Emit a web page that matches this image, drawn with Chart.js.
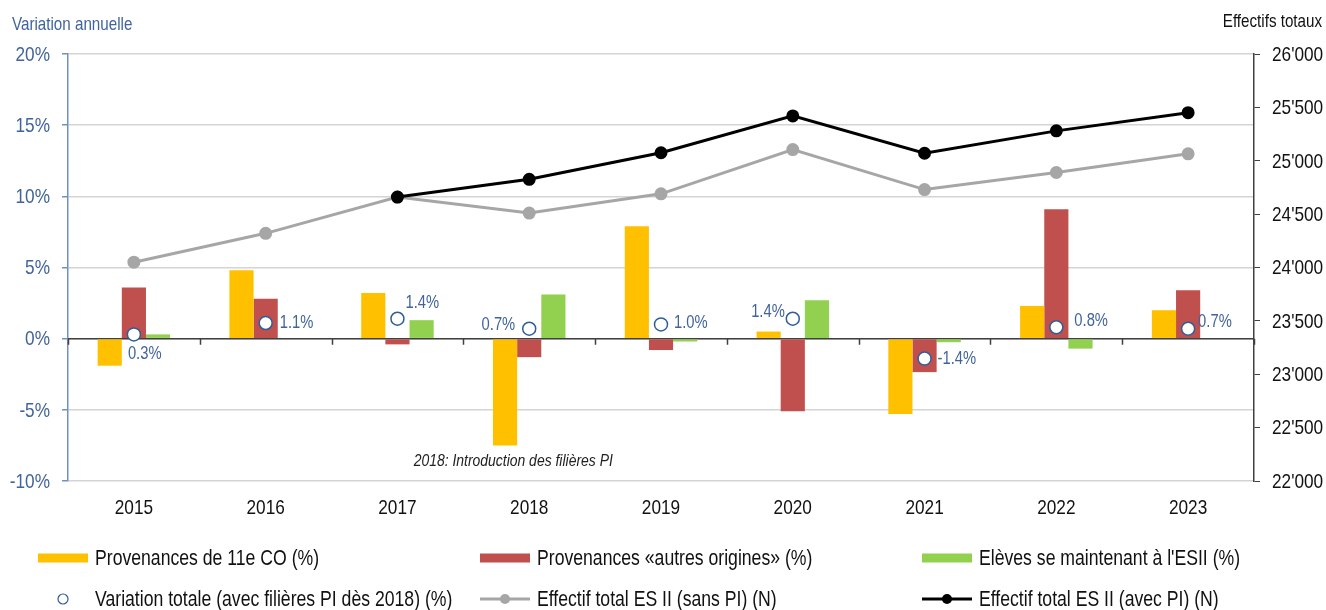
<!DOCTYPE html>
<html lang="fr">
<head>
<meta charset="utf-8">
<title>Variation annuelle des effectifs ES II</title>
<script src="https://cdn.jsdelivr.net/npm/chart.js@4/dist/chart.umd.min.js"></script>
<style>
  html, body { margin: 0; padding: 0; background: #fff; }
  #wrap { width: 1326px; height: 610px; position: relative; }
</style>
</head>
<body>
<div id="wrap"><canvas id="chart" width="1326" height="610"></canvas></div>
<script>
// --- Données ---
const years = ['2015', '2016', '2017', '2018', '2019', '2020', '2021', '2022', '2023'];
const provenances11eCO = [-1.9, 4.8, 3.2, -7.5, 7.9, 0.5, -5.3, 2.3, 2.0];
const provenancesAutres = [3.6, 2.8, -0.4, -1.3, -0.8, -5.1, -2.35, 9.1, 3.4];
const elevesMaintien = [0.3, 0.0, 1.3, 3.1, -0.2, 2.7, -0.25, -0.7, 0.0];
const variationTotale = [0.3, 1.1, 1.4, 0.7, 1.0, 1.4, -1.4, 0.8, 0.7];
const effectifSansPI = [24050, 24320, 24660, 24510, 24690, 25105, 24730, 24890, 25065];
const effectifAvecPI = [null, null, 24660, 24826, 25075, 25420, 25070, 25280, 25450];
const pctTicks = [-10, -5, 0, 5, 10, 15, 20];
const effTicks = [22000, 22500, 23000, 23500, 24000, 24500, 25000, 25500, 26000];

// --- Styles ---
const FONT = "'Liberation Sans', Arial, sans-serif";
const SX = 0.82; // texte étroit (condensé)
const BLUE_TXT = '#41649b';
const BLUE_AXIS = '#7090bf';
const GRID = '#d4d4d4';
const DARK = '#404040';
// placement des étiquettes de la variation totale: [dx, dy, align]
const labelPlacement = [
  [-6, 20, 'left'], [14, 0, 'left'], [8, -16, 'left'], [-14, -4, 'right'], [13, -1, 'left'],
  [-8, -7, 'right'], [13, 0, 'left'], [18, -6, 'left'], [10, -7, 'left']
];

const fmtEff = v => String(v).replace(/\B(?=(\d{3})+(?!\d))/g, "'");

const narrowText = (ctx, text, x, y, align) => {
  ctx.save();
  ctx.translate(x, y);
  ctx.scale(SX, 1);
  ctx.textAlign = align;
  ctx.fillText(text, 0, 0);
  ctx.restore();
};

// --- Plugin: axes texte, ligne zéro, étiquettes, note, légende ---
const decorPlugin = {
  id: 'decor',
  beforeDatasetsDraw(chart) {
    const { ctx, chartArea, scales } = chart;
    const y0 = scales.y.getPixelForValue(0);
    ctx.save();
    ctx.strokeStyle = DARK;
    ctx.lineWidth = 1.5;
    ctx.beginPath();
    ctx.moveTo(chartArea.left, y0);
    ctx.lineTo(chartArea.right, y0);
    const step = (chartArea.right - chartArea.left) / years.length;
    for (let k = 0; k <= years.length; k++) {
      const x = Math.round(chartArea.left + k * step) + 0.5;
      ctx.moveTo(x, y0);
      ctx.lineTo(x, y0 + 6);
    }
    ctx.stroke();
    ctx.restore();
  },
  afterDraw(chart) {
    const { ctx, scales, chartArea } = chart;
    ctx.save();

    // titres d'axes
    ctx.textBaseline = 'alphabetic';
    ctx.font = '18.5px ' + FONT;
    ctx.fillStyle = BLUE_TXT;
    narrowText(ctx, 'Variation annuelle', 12, 30, 'left');
    ctx.fillStyle = '#111';
    narrowText(ctx, 'Effectifs totaux', 1322, 27, 'right');

    // étiquettes des axes
    ctx.textBaseline = 'middle';
    ctx.font = '21px ' + FONT;
    ctx.fillStyle = BLUE_TXT;
    pctTicks.forEach(v => narrowText(ctx, v + '%', chartArea.left - 18, scales.y.getPixelForValue(v) + 1, 'right'));
    ctx.fillStyle = '#111';
    effTicks.forEach(v => narrowText(ctx, fmtEff(v), chartArea.right + 18, scales.y2.getPixelForValue(v) + 1, 'left'));
    years.forEach((yr, i) => narrowText(ctx, yr, scales.x.getPixelForValue(i), chartArea.bottom + 27, 'center'));

    // étiquettes variation totale
    const meta = chart.getDatasetMeta(3);
    ctx.font = '18px ' + FONT;
    ctx.fillStyle = BLUE_TXT;
    meta.data.forEach((pt, i) => {
      const [dx, dy, align] = labelPlacement[i];
      narrowText(ctx, variationTotale[i].toFixed(1) + '%', pt.x + dx, pt.y + dy, align);
    });

    // note
    ctx.font = 'italic 17px ' + FONT;
    ctx.fillStyle = '#222';
    narrowText(ctx, '2018: Introduction des filières PI', scales.x.getPixelForValue(3) - 16, scales.y.getPixelForValue(-8.6), 'center');

    // légende
    const cols = [38, 480, 922];
    const rows = [558, 599];
    ctx.font = '21.5px ' + FONT;
    [0, 1, 2, 3, 4, 5].forEach((di, n) => {
      const ds = chart.data.datasets[di];
      const x = cols[n % 3];
      const y = rows[Math.floor(n / 3)];
      if (ds.type === 'bar') {
        ctx.fillStyle = ds.backgroundColor;
        ctx.fillRect(x, y - 4.5, 50, 9);
      } else if (ds.showLine === false) {
        ctx.beginPath();
        ctx.arc(x + 25, y, 5, 0, Math.PI * 2);
        ctx.fillStyle = '#fff';
        ctx.fill();
        ctx.lineWidth = 1.2;
        ctx.strokeStyle = ds.pointBorderColor;
        ctx.stroke();
      } else {
        ctx.strokeStyle = ds.borderColor;
        ctx.lineWidth = ds.borderWidth;
        ctx.beginPath();
        ctx.moveTo(x, y);
        ctx.lineTo(x + 50, y);
        ctx.stroke();
        ctx.beginPath();
        ctx.arc(x + 25, y, 5, 0, Math.PI * 2);
        ctx.fillStyle = ds.pointBackgroundColor;
        ctx.fill();
      }
      ctx.fillStyle = '#111';
      narrowText(ctx, ds.label, x + 57, y + 1, 'left');
    });
    ctx.restore();
  }
};

// --- Chart ---
const initChart = () => {
  const ctx = document.getElementById('chart');
  new Chart(ctx, {
    data: {
      labels: years,
      datasets: [
        { type: 'bar', label: 'Provenances de 11e CO (%)', data: provenances11eCO, backgroundColor: '#ffc000', yAxisID: 'y', order: 3 },
        { type: 'bar', label: 'Provenances «autres origines» (%)', data: provenancesAutres, backgroundColor: '#c0504d', yAxisID: 'y', order: 3 },
        { type: 'bar', label: "Elèves se maintenant à l'ESII (%)", data: elevesMaintien, backgroundColor: '#92d050', yAxisID: 'y', order: 3 },
        {
          type: 'line', label: 'Variation totale (avec filières PI dès 2018) (%)', data: variationTotale, yAxisID: 'y',
          showLine: false, pointRadius: 6.5, pointBackgroundColor: '#fff', pointBorderColor: '#2f5d98', pointBorderWidth: 1.5, order: 0
        },
        {
          type: 'line', label: 'Effectif total ES II (sans PI) (N)', data: effectifSansPI, yAxisID: 'y2',
          borderColor: '#a6a6a6', borderWidth: 3, pointRadius: 5, pointBackgroundColor: '#a6a6a6', pointBorderColor: '#a6a6a6', tension: 0, order: 2
        },
        {
          type: 'line', label: 'Effectif total ES II (avec PI) (N)', data: effectifAvecPI, yAxisID: 'y2',
          borderColor: '#000', borderWidth: 3, pointRadius: 5, pointBackgroundColor: '#000', pointBorderColor: '#000', tension: 0, spanGaps: false, order: 1
        }
      ]
    },
    options: {
      responsive: false,
      animation: false,
      layout: { padding: { top: 54, left: 0, right: 0, bottom: 0 } },
      datasets: { bar: { categoryPercentage: 0.55, barPercentage: 1.0 } },
      plugins: { legend: { display: false }, tooltip: { enabled: false } },
      scales: {
        x: {
          grid: { display: false, drawTicks: false },
          border: { display: false },
          ticks: { display: false },
          afterFit: s => { s.height = 129; }
        },
        y: {
          position: 'left', min: -10, max: 20,
          afterBuildTicks: s => { s.ticks = pctTicks.map(v => ({ value: v })); },
          grid: { color: GRID, lineWidth: 1.5, tickColor: BLUE_AXIS, tickLength: 6 },
          border: { color: BLUE_AXIS, width: 1.5 },
          ticks: { display: false },
          afterFit: s => { s.width = 68; }
        },
        y2: {
          position: 'right', min: 22000, max: 26000,
          afterBuildTicks: s => { s.ticks = effTicks.map(v => ({ value: v })); },
          grid: { drawOnChartArea: false, tickColor: DARK, tickLength: 6 },
          border: { color: DARK, width: 1.5 },
          ticks: { display: false },
          afterFit: s => { s.width = 72; }
        }
      }
    },
    plugins: [decorPlugin]
  });
};

document.addEventListener('DOMContentLoaded', initChart);
</script>
</body>
</html>
